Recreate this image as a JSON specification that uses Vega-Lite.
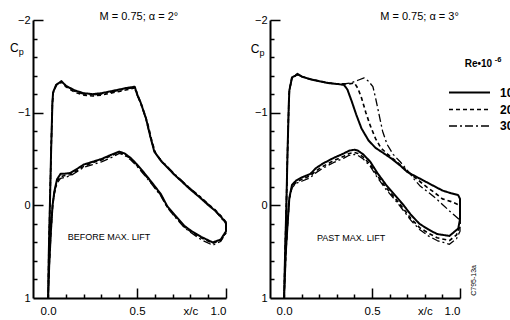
{
  "$schema": "https://vega.github.io/schema/vega-lite/v6.json",
  "padding": {"left": 9, "top": 10, "right": 2, "bottom": 2},
  "spacing": 22,
  "config": {
    "font": "Liberation Sans",
    "view": {"stroke": "transparent"}
  },
  "datasets": {
    "a2": [
      {"re":"10","x":0,"cp":1},{"re":"10","x":0.004,"cp":0.5},{"re":"10","x":0.01,"cp":0},{"re":"10","x":0.017,"cp":-0.6},{"re":"10","x":0.024,"cp":-1.1},{"re":"10","x":0.028,"cp":-1.22},{"re":"10","x":0.045,"cp":-1.3},{"re":"10","x":0.075,"cp":-1.34},{"re":"10","x":0.1,"cp":-1.29},{"re":"10","x":0.15,"cp":-1.24},{"re":"10","x":0.2,"cp":-1.21},{"re":"10","x":0.25,"cp":-1.2},{"re":"10","x":0.3,"cp":-1.21},{"re":"10","x":0.35,"cp":-1.23},{"re":"10","x":0.4,"cp":-1.25},{"re":"10","x":0.45,"cp":-1.27},{"re":"10","x":0.487,"cp":-1.28},{"re":"10","x":0.5,"cp":-1.2},{"re":"10","x":0.52,"cp":-1.11},{"re":"10","x":0.55,"cp":-0.94},{"re":"10","x":0.575,"cp":-0.74},{"re":"10","x":0.597,"cp":-0.58},{"re":"10","x":0.634,"cp":-0.48},{"re":"10","x":0.67,"cp":-0.41},{"re":"10","x":0.71,"cp":-0.33},{"re":"10","x":0.75,"cp":-0.26},{"re":"10","x":0.8,"cp":-0.17},{"re":"10","x":0.85,"cp":-0.09},{"re":"10","x":0.896,"cp":-0.01},{"re":"10","x":0.94,"cp":0.06},{"re":"10","x":0.97,"cp":0.12},{"re":"10","x":1,"cp":0.19},{"re":"10","x":1,"cp":0.28},{"re":"10","x":0.97,"cp":0.37},{"re":"10","x":0.925,"cp":0.4},{"re":"10","x":0.86,"cp":0.34},{"re":"10","x":0.8,"cp":0.27},{"re":"10","x":0.765,"cp":0.22},{"re":"10","x":0.71,"cp":0.1},{"re":"10","x":0.67,"cp":0.01},{"re":"10","x":0.634,"cp":-0.12},{"re":"10","x":0.59,"cp":-0.23},{"re":"10","x":0.54,"cp":-0.35},{"re":"10","x":0.5,"cp":-0.44},{"re":"10","x":0.465,"cp":-0.51},{"re":"10","x":0.43,"cp":-0.56},{"re":"10","x":0.4,"cp":-0.58},{"re":"10","x":0.36,"cp":-0.55},{"re":"10","x":0.3,"cp":-0.5},{"re":"10","x":0.25,"cp":-0.47},{"re":"10","x":0.2,"cp":-0.44},{"re":"10","x":0.16,"cp":-0.39},{"re":"10","x":0.126,"cp":-0.35},{"re":"10","x":0.09,"cp":-0.34},{"re":"10","x":0.07,"cp":-0.34},{"re":"10","x":0.05,"cp":-0.28},{"re":"10","x":0.035,"cp":-0.15},{"re":"10","x":0.025,"cp":0},{"re":"10","x":0.015,"cp":0.3},{"re":"10","x":0.006,"cp":0.65},{"re":"10","x":0,"cp":1},

      {"re":"20","x":0,"cp":1},{"re":"20","x":0.004,"cp":0.5},{"re":"20","x":0.01,"cp":0},{"re":"20","x":0.017,"cp":-0.6},{"re":"20","x":0.024,"cp":-1.1},{"re":"20","x":0.028,"cp":-1.21},{"re":"20","x":0.045,"cp":-1.29},{"re":"20","x":0.075,"cp":-1.33},{"re":"20","x":0.1,"cp":-1.28},{"re":"20","x":0.15,"cp":-1.22},{"re":"20","x":0.2,"cp":-1.19},{"re":"20","x":0.25,"cp":-1.18},{"re":"20","x":0.3,"cp":-1.19},{"re":"20","x":0.35,"cp":-1.21},{"re":"20","x":0.4,"cp":-1.23},{"re":"20","x":0.45,"cp":-1.25},{"re":"20","x":0.49,"cp":-1.27},{"re":"20","x":0.505,"cp":-1.18},{"re":"20","x":0.53,"cp":-1.06},{"re":"20","x":0.56,"cp":-0.88},{"re":"20","x":0.585,"cp":-0.68},{"re":"20","x":0.605,"cp":-0.56},{"re":"20","x":0.64,"cp":-0.47},{"re":"20","x":0.67,"cp":-0.41},{"re":"20","x":0.71,"cp":-0.33},{"re":"20","x":0.75,"cp":-0.26},{"re":"20","x":0.8,"cp":-0.18},{"re":"20","x":0.85,"cp":-0.1},{"re":"20","x":0.896,"cp":-0.02},{"re":"20","x":0.94,"cp":0.05},{"re":"20","x":0.97,"cp":0.11},{"re":"20","x":1,"cp":0.18},{"re":"20","x":1,"cp":0.29},{"re":"20","x":0.97,"cp":0.38},{"re":"20","x":0.925,"cp":0.41},{"re":"20","x":0.86,"cp":0.35},{"re":"20","x":0.8,"cp":0.28},{"re":"20","x":0.765,"cp":0.23},{"re":"20","x":0.71,"cp":0.11},{"re":"20","x":0.67,"cp":0.02},{"re":"20","x":0.634,"cp":-0.11},{"re":"20","x":0.59,"cp":-0.22},{"re":"20","x":0.54,"cp":-0.34},{"re":"20","x":0.5,"cp":-0.43},{"re":"20","x":0.465,"cp":-0.5},{"re":"20","x":0.43,"cp":-0.55},{"re":"20","x":0.4,"cp":-0.57},{"re":"20","x":0.36,"cp":-0.54},{"re":"20","x":0.3,"cp":-0.49},{"re":"20","x":0.25,"cp":-0.46},{"re":"20","x":0.2,"cp":-0.42},{"re":"20","x":0.16,"cp":-0.37},{"re":"20","x":0.126,"cp":-0.33},{"re":"20","x":0.09,"cp":-0.32},{"re":"20","x":0.07,"cp":-0.31},{"re":"20","x":0.05,"cp":-0.26},{"re":"20","x":0.035,"cp":-0.14},{"re":"20","x":0.025,"cp":0},{"re":"20","x":0.015,"cp":0.3},{"re":"20","x":0.006,"cp":0.65},{"re":"20","x":0,"cp":1},

      {"re":"30","x":0,"cp":1},{"re":"30","x":0.004,"cp":0.5},{"re":"30","x":0.01,"cp":0},{"re":"30","x":0.017,"cp":-0.6},{"re":"30","x":0.024,"cp":-1.1},{"re":"30","x":0.028,"cp":-1.21},{"re":"30","x":0.045,"cp":-1.3},{"re":"30","x":0.075,"cp":-1.33},{"re":"30","x":0.1,"cp":-1.29},{"re":"30","x":0.15,"cp":-1.23},{"re":"30","x":0.2,"cp":-1.2},{"re":"30","x":0.25,"cp":-1.19},{"re":"30","x":0.3,"cp":-1.2},{"re":"30","x":0.35,"cp":-1.22},{"re":"30","x":0.4,"cp":-1.24},{"re":"30","x":0.45,"cp":-1.26},{"re":"30","x":0.485,"cp":-1.27},{"re":"30","x":0.5,"cp":-1.19},{"re":"30","x":0.52,"cp":-1.1},{"re":"30","x":0.55,"cp":-0.93},{"re":"30","x":0.575,"cp":-0.73},{"re":"30","x":0.6,"cp":-0.57},{"re":"30","x":0.634,"cp":-0.49},{"re":"30","x":0.67,"cp":-0.42},{"re":"30","x":0.71,"cp":-0.34},{"re":"30","x":0.75,"cp":-0.27},{"re":"30","x":0.8,"cp":-0.18},{"re":"30","x":0.85,"cp":-0.1},{"re":"30","x":0.896,"cp":-0.02},{"re":"30","x":0.94,"cp":0.06},{"re":"30","x":0.97,"cp":0.13},{"re":"30","x":1,"cp":0.2},{"re":"30","x":1,"cp":0.3},{"re":"30","x":0.97,"cp":0.39},{"re":"30","x":0.925,"cp":0.43},{"re":"30","x":0.86,"cp":0.37},{"re":"30","x":0.8,"cp":0.29},{"re":"30","x":0.765,"cp":0.24},{"re":"30","x":0.71,"cp":0.12},{"re":"30","x":0.67,"cp":0.02},{"re":"30","x":0.634,"cp":-0.1},{"re":"30","x":0.59,"cp":-0.21},{"re":"30","x":0.54,"cp":-0.33},{"re":"30","x":0.5,"cp":-0.42},{"re":"30","x":0.465,"cp":-0.49},{"re":"30","x":0.43,"cp":-0.54},{"re":"30","x":0.4,"cp":-0.56},{"re":"30","x":0.36,"cp":-0.52},{"re":"30","x":0.3,"cp":-0.47},{"re":"30","x":0.25,"cp":-0.44},{"re":"30","x":0.2,"cp":-0.41},{"re":"30","x":0.16,"cp":-0.36},{"re":"30","x":0.126,"cp":-0.32},{"re":"30","x":0.09,"cp":-0.3},{"re":"30","x":0.07,"cp":-0.29},{"re":"30","x":0.05,"cp":-0.24},{"re":"30","x":0.035,"cp":-0.12},{"re":"30","x":0.025,"cp":0.02},{"re":"30","x":0.015,"cp":0.3},{"re":"30","x":0.006,"cp":0.65},{"re":"30","x":0,"cp":1}
    ],
    "a3": [
      {"re":"10","x":0,"cp":1},{"re":"10","x":0.006,"cp":0.5},{"re":"10","x":0.013,"cp":0},{"re":"10","x":0.02,"cp":-0.6},{"re":"10","x":0.027,"cp":-1.1},{"re":"10","x":0.03,"cp":-1.24},{"re":"10","x":0.045,"cp":-1.38},{"re":"10","x":0.065,"cp":-1.4},{"re":"10","x":0.076,"cp":-1.42},{"re":"10","x":0.1,"cp":-1.39},{"re":"10","x":0.15,"cp":-1.36},{"re":"10","x":0.2,"cp":-1.34},{"re":"10","x":0.25,"cp":-1.32},{"re":"10","x":0.3,"cp":-1.31},{"re":"10","x":0.34,"cp":-1.3},{"re":"10","x":0.36,"cp":-1.25},{"re":"10","x":0.385,"cp":-1.12},{"re":"10","x":0.41,"cp":-0.98},{"re":"10","x":0.44,"cp":-0.83},{"re":"10","x":0.48,"cp":-0.7},{"re":"10","x":0.52,"cp":-0.62},{"re":"10","x":0.56,"cp":-0.57},{"re":"10","x":0.61,"cp":-0.505},{"re":"10","x":0.66,"cp":-0.43},{"re":"10","x":0.7,"cp":-0.36},{"re":"10","x":0.75,"cp":-0.31},{"re":"10","x":0.8,"cp":-0.26},{"re":"10","x":0.85,"cp":-0.21},{"re":"10","x":0.9,"cp":-0.16},{"re":"10","x":0.95,"cp":-0.13},{"re":"10","x":0.99,"cp":-0.11},{"re":"10","x":1,"cp":-0.07},{"re":"10","x":1,"cp":0.15},{"re":"10","x":0.99,"cp":0.25},{"re":"10","x":0.94,"cp":0.33},{"re":"10","x":0.87,"cp":0.31},{"re":"10","x":0.82,"cp":0.26},{"re":"10","x":0.77,"cp":0.2},{"re":"10","x":0.72,"cp":0.1},{"re":"10","x":0.68,"cp":0},{"re":"10","x":0.63,"cp":-0.11},{"re":"10","x":0.58,"cp":-0.22},{"re":"10","x":0.53,"cp":-0.35},{"re":"10","x":0.49,"cp":-0.47},{"re":"10","x":0.45,"cp":-0.55},{"re":"10","x":0.42,"cp":-0.59},{"re":"10","x":0.4,"cp":-0.6},{"re":"10","x":0.37,"cp":-0.59},{"re":"10","x":0.34,"cp":-0.56},{"re":"10","x":0.28,"cp":-0.51},{"re":"10","x":0.22,"cp":-0.45},{"re":"10","x":0.18,"cp":-0.4},{"re":"10","x":0.15,"cp":-0.34},{"re":"10","x":0.1,"cp":-0.3},{"re":"10","x":0.07,"cp":-0.27},{"re":"10","x":0.045,"cp":-0.22},{"re":"10","x":0.03,"cp":-0.08},{"re":"10","x":0.02,"cp":0.2},{"re":"10","x":0.01,"cp":0.5},{"re":"10","x":0,"cp":1},

      {"re":"20","x":0,"cp":1},{"re":"20","x":0.006,"cp":0.5},{"re":"20","x":0.013,"cp":0},{"re":"20","x":0.02,"cp":-0.6},{"re":"20","x":0.027,"cp":-1.1},{"re":"20","x":0.03,"cp":-1.24},{"re":"20","x":0.045,"cp":-1.38},{"re":"20","x":0.065,"cp":-1.4},{"re":"20","x":0.076,"cp":-1.41},{"re":"20","x":0.1,"cp":-1.39},{"re":"20","x":0.15,"cp":-1.36},{"re":"20","x":0.2,"cp":-1.34},{"re":"20","x":0.25,"cp":-1.32},{"re":"20","x":0.3,"cp":-1.31},{"re":"20","x":0.34,"cp":-1.31},{"re":"20","x":0.37,"cp":-1.31},{"re":"20","x":0.4,"cp":-1.32},{"re":"20","x":0.42,"cp":-1.26},{"re":"20","x":0.44,"cp":-1.16},{"re":"20","x":0.465,"cp":-1},{"re":"20","x":0.49,"cp":-0.86},{"re":"20","x":0.52,"cp":-0.72},{"re":"20","x":0.55,"cp":-0.62},{"re":"20","x":0.59,"cp":-0.55},{"re":"20","x":0.64,"cp":-0.47},{"re":"20","x":0.7,"cp":-0.37},{"re":"20","x":0.75,"cp":-0.29},{"re":"20","x":0.81,"cp":-0.2},{"re":"20","x":0.86,"cp":-0.13},{"re":"20","x":0.9,"cp":-0.07},{"re":"20","x":0.95,"cp":-0.04},{"re":"20","x":1,"cp":0},{"re":"20","x":1,"cp":0.22},{"re":"20","x":0.98,"cp":0.32},{"re":"20","x":0.94,"cp":0.38},{"re":"20","x":0.87,"cp":0.35},{"re":"20","x":0.82,"cp":0.3},{"re":"20","x":0.77,"cp":0.24},{"re":"20","x":0.72,"cp":0.14},{"re":"20","x":0.68,"cp":0.04},{"re":"20","x":0.63,"cp":-0.08},{"re":"20","x":0.58,"cp":-0.19},{"re":"20","x":0.53,"cp":-0.32},{"re":"20","x":0.49,"cp":-0.44},{"re":"20","x":0.45,"cp":-0.52},{"re":"20","x":0.42,"cp":-0.56},{"re":"20","x":0.4,"cp":-0.57},{"re":"20","x":0.37,"cp":-0.56},{"re":"20","x":0.34,"cp":-0.53},{"re":"20","x":0.28,"cp":-0.48},{"re":"20","x":0.22,"cp":-0.42},{"re":"20","x":0.18,"cp":-0.37},{"re":"20","x":0.15,"cp":-0.32},{"re":"20","x":0.1,"cp":-0.28},{"re":"20","x":0.07,"cp":-0.25},{"re":"20","x":0.045,"cp":-0.2},{"re":"20","x":0.03,"cp":-0.07},{"re":"20","x":0.02,"cp":0.2},{"re":"20","x":0.01,"cp":0.5},{"re":"20","x":0,"cp":1},

      {"re":"30","x":0,"cp":1},{"re":"30","x":0.006,"cp":0.5},{"re":"30","x":0.013,"cp":0},{"re":"30","x":0.02,"cp":-0.6},{"re":"30","x":0.027,"cp":-1.1},{"re":"30","x":0.03,"cp":-1.24},{"re":"30","x":0.045,"cp":-1.37},{"re":"30","x":0.065,"cp":-1.4},{"re":"30","x":0.076,"cp":-1.41},{"re":"30","x":0.1,"cp":-1.39},{"re":"30","x":0.15,"cp":-1.36},{"re":"30","x":0.2,"cp":-1.34},{"re":"30","x":0.25,"cp":-1.32},{"re":"30","x":0.3,"cp":-1.31},{"re":"30","x":0.34,"cp":-1.31},{"re":"30","x":0.38,"cp":-1.32},{"re":"30","x":0.42,"cp":-1.35},{"re":"30","x":0.455,"cp":-1.375},{"re":"30","x":0.48,"cp":-1.34},{"re":"30","x":0.505,"cp":-1.28},{"re":"30","x":0.52,"cp":-1.16},{"re":"30","x":0.54,"cp":-0.98},{"re":"30","x":0.56,"cp":-0.8},{"re":"30","x":0.585,"cp":-0.66},{"re":"30","x":0.62,"cp":-0.55},{"re":"30","x":0.66,"cp":-0.47},{"re":"30","x":0.7,"cp":-0.38},{"re":"30","x":0.74,"cp":-0.28},{"re":"30","x":0.77,"cp":-0.215},{"re":"30","x":0.82,"cp":-0.14},{"re":"30","x":0.866,"cp":-0.07},{"re":"30","x":0.9,"cp":-0.01},{"re":"30","x":0.94,"cp":0.06},{"re":"30","x":0.97,"cp":0.11},{"re":"30","x":1,"cp":0.16},{"re":"30","x":1,"cp":0.28},{"re":"30","x":0.98,"cp":0.36},{"re":"30","x":0.94,"cp":0.42},{"re":"30","x":0.87,"cp":0.38},{"re":"30","x":0.82,"cp":0.33},{"re":"30","x":0.77,"cp":0.26},{"re":"30","x":0.72,"cp":0.16},{"re":"30","x":0.68,"cp":0.06},{"re":"30","x":0.63,"cp":-0.06},{"re":"30","x":0.58,"cp":-0.17},{"re":"30","x":0.53,"cp":-0.3},{"re":"30","x":0.49,"cp":-0.42},{"re":"30","x":0.45,"cp":-0.5},{"re":"30","x":0.42,"cp":-0.54},{"re":"30","x":0.4,"cp":-0.55},{"re":"30","x":0.37,"cp":-0.54},{"re":"30","x":0.34,"cp":-0.51},{"re":"30","x":0.28,"cp":-0.46},{"re":"30","x":0.22,"cp":-0.4},{"re":"30","x":0.18,"cp":-0.35},{"re":"30","x":0.15,"cp":-0.3},{"re":"30","x":0.1,"cp":-0.26},{"re":"30","x":0.07,"cp":-0.24},{"re":"30","x":0.045,"cp":-0.19},{"re":"30","x":0.03,"cp":-0.06},{"re":"30","x":0.02,"cp":0.2},{"re":"30","x":0.01,"cp":0.5},{"re":"30","x":0,"cp":1}
    ]
  },
  "hconcat": [
    {
      "width": 193,
      "height": 278,
      "resolve": {"axis": {"x": "independent", "y": "independent"}},
      "layer": [
        {
          "data": {"name": "a2"},
          "mark": {"type": "line", "color": "black", "strokeJoin": "round"},
          "encoding": {
            "x": {
              "field": "x", "type": "quantitative",
              "scale": {"domain": [-0.085, 1], "nice": false, "zero": false},
              "axis": {
                "title": null, "orient": "bottom", "ticks": false, "grid": false,
                "domain": true, "domainColor": "black", "domainWidth": 2,
                "values": [0, 0.5, 0.8, 1],
                "labelExpr": "datum.value === 0 ? '0.0' : datum.value === 0.5 ? '0.5' : datum.value === 1 ? '1.0' : 'x/c'",
                "labelPadding": 7, "labelFontSize": 11.5, "labelColor": "black"
              }
            },
            "y": {
              "field": "cp", "type": "quantitative",
              "scale": {"domain": [-2, 1], "reverse": true, "nice": false, "zero": false},
              "axis": {
                "title": null, "orient": "left", "ticks": false, "grid": false,
                "domain": true, "domainColor": "black", "domainWidth": 2,
                "values": [-2, -1, 0, 1], "format": "d", "labelPadding": 3, "labelFontSize": 11, "labelColor": "black"
              }
            },
            "strokeDash": {
              "field": "re", "type": "nominal",
              "scale": {"domain": ["10", "20", "30"], "range": [[1, 0], [4, 3], [8, 3, 2, 3]]},
              "legend": {
                "title": null, "orient": "none", "legendX": 430, "legendY": 66,
                "symbolType": "M-4,0H4", "symbolSize": 105, "symbolStrokeColor": "black", "symbolStrokeWidth": 1.6,
                "labelFontSize": 12, "labelFontWeight": "bold", "labelColor": "black", "labelOffset": 24, "rowPadding": 4.5
              }
            },
            "strokeWidth": {
              "field": "re", "type": "nominal",
              "scale": {"domain": ["10", "20", "30"], "range": [2, 1.3, 1.3]},
              "legend": null
            },
            "order": {"value": null}
          }
        },
        {
          "data": {"values": [{"x": 0.51, "cp": -2.03, "t": "M = 0.75; α = 2°"}]},
          "mark": {"type": "text", "fontSize": 11, "align": "center", "baseline": "middle"},
          "encoding": {
            "x": {"field": "x", "type": "quantitative", "axis": {"title": null, "orient": "top", "offset": -278, "values": [0, 0.1, 0.2, 0.3, 0.4, 0.6, 0.7, 0.8, 0.9], "ticks": true, "tickSize": 4, "tickColor": "black", "tickWidth": 1.5, "labels": false, "domain": false, "grid": false}},
            "y": {"field": "cp", "type": "quantitative", "axis": {"title": null, "orient": "right", "offset": -193, "values": [-1.8, -1.6, -1.4, -1.2, -0.8, -0.6, -0.4, -0.2, 0.2, 0.4, 0.6, 0.8], "ticks": true, "tickSize": 4, "tickColor": "black", "tickWidth": 1.5, "labels": false, "domain": false, "grid": false}},
            "text": {"field": "t"}
          }
        },
        {
          "data": {"values": [{"x": 0.11, "cp": 0.34, "t": "BEFORE MAX. LIFT"}]},
          "mark": {"type": "text", "fontSize": 9, "align": "left", "baseline": "middle"},
          "encoding": {
            "x": {"field": "x", "type": "quantitative", "axis": {"title": null, "orient": "top", "offset": -278, "values": [0.5, 1], "ticks": true, "tickSize": 10, "tickColor": "black", "tickWidth": 1.5, "labels": false, "domain": false, "grid": false}},
            "y": {"field": "cp", "type": "quantitative", "axis": {"title": null, "orient": "right", "offset": -193, "values": [-2, -1, 0], "ticks": true, "tickSize": 10, "tickColor": "black", "tickWidth": 1.5, "labels": false, "domain": false, "grid": false}},
            "text": {"field": "t"}
          }
        },
        {
          "data": {"values": [{"x": -0.19, "cp": -1.7, "t": "C"}]},
          "mark": {"type": "text", "fontSize": 12, "align": "center", "baseline": "middle"},
          "encoding": {"x": {"field": "x", "type": "quantitative", "axis": null}, "y": {"field": "cp", "type": "quantitative", "axis": null}, "text": {"field": "t"}}
        },
        {
          "data": {"values": [{"x": -0.19, "cp": -1.7, "t": "p"}]},
          "mark": {"type": "text", "fontSize": 9, "align": "center", "baseline": "middle", "dx": 7, "dy": 4},
          "encoding": {"x": {"field": "x", "type": "quantitative", "axis": null}, "y": {"field": "cp", "type": "quantitative", "axis": null}, "text": {"field": "t"}}
        }
      ]
    },
    {
      "width": 190,
      "height": 278,
      "resolve": {"axis": {"x": "independent", "y": "independent"}},
      "layer": [
        {
          "data": {"name": "a3"},
          "mark": {"type": "line", "color": "black", "strokeJoin": "round"},
          "encoding": {
            "x": {
              "field": "x", "type": "quantitative",
              "scale": {"domain": [-0.08, 1], "nice": false, "zero": false},
              "axis": {
                "title": null, "orient": "bottom", "ticks": false, "grid": false,
                "domain": true, "domainColor": "black", "domainWidth": 2,
                "values": [0, 0.5, 0.8, 1],
                "labelExpr": "datum.value === 0 ? '0.0' : datum.value === 0.5 ? '0.5' : datum.value === 1 ? '1.0' : 'x/c'",
                "labelPadding": 7, "labelFontSize": 11.5, "labelColor": "black"
              }
            },
            "y": {
              "field": "cp", "type": "quantitative",
              "scale": {"domain": [-2, 1], "reverse": true, "nice": false, "zero": false},
              "axis": {
                "title": null, "orient": "left", "ticks": false, "grid": false,
                "domain": true, "domainColor": "black", "domainWidth": 2,
                "values": [-2, -1, 0, 1], "format": "d", "labelPadding": 3, "labelFontSize": 11, "labelColor": "black"
              }
            },
            "strokeDash": {
              "field": "re", "type": "nominal",
              "scale": {"domain": ["10", "20", "30"], "range": [[1, 0], [4, 3], [8, 3, 2, 3]]}
            },
            "strokeWidth": {
              "field": "re", "type": "nominal",
              "scale": {"domain": ["10", "20", "30"], "range": [2, 1.3, 1.3]},
              "legend": null
            },
            "order": {"value": null}
          }
        },
        {
          "data": {"values": [{"x": 0.77, "cp": -2.03, "t": "M = 0.75; α = 3°"}]},
          "mark": {"type": "text", "fontSize": 11, "align": "center", "baseline": "middle"},
          "encoding": {
            "x": {"field": "x", "type": "quantitative", "axis": {"title": null, "orient": "top", "offset": -278, "values": [0, 0.1, 0.2, 0.3, 0.4, 0.6, 0.7, 0.8, 0.9], "ticks": true, "tickSize": 4, "tickColor": "black", "tickWidth": 1.5, "labels": false, "domain": false, "grid": false}},
            "y": {"field": "cp", "type": "quantitative", "axis": {"title": null, "orient": "right", "offset": -190, "values": [-1.8, -1.6, -1.4, -1.2, -0.8, -0.6, -0.4, -0.2, 0.2, 0.4, 0.6, 0.8], "ticks": true, "tickSize": 4, "tickColor": "black", "tickWidth": 1.5, "labels": false, "domain": false, "grid": false}},
            "text": {"field": "t"}
          }
        },
        {
          "data": {"values": [{"x": 0.187, "cp": 0.35, "t": "PAST MAX. LIFT"}]},
          "mark": {"type": "text", "fontSize": 9, "align": "left", "baseline": "middle"},
          "encoding": {
            "x": {"field": "x", "type": "quantitative", "axis": {"title": null, "orient": "top", "offset": -278, "values": [0.5, 1], "ticks": true, "tickSize": 10, "tickColor": "black", "tickWidth": 1.5, "labels": false, "domain": false, "grid": false}},
            "y": {"field": "cp", "type": "quantitative", "axis": {"title": null, "orient": "right", "offset": -190, "values": [-2, -1, 0], "ticks": true, "tickSize": 10, "tickColor": "black", "tickWidth": 1.5, "labels": false, "domain": false, "grid": false}},
            "text": {"field": "t"}
          }
        },
        {
          "data": {"values": [{"x": -0.165, "cp": -1.69, "t": "C"}]},
          "mark": {"type": "text", "fontSize": 12, "align": "center", "baseline": "middle"},
          "encoding": {"x": {"field": "x", "type": "quantitative", "axis": null}, "y": {"field": "cp", "type": "quantitative", "axis": null}, "text": {"field": "t"}}
        },
        {
          "data": {"values": [{"x": -0.165, "cp": -1.69, "t": "p"}]},
          "mark": {"type": "text", "fontSize": 9, "align": "center", "baseline": "middle", "dx": 7, "dy": 4},
          "encoding": {"x": {"field": "x", "type": "quantitative", "axis": null}, "y": {"field": "cp", "type": "quantitative", "axis": null}, "text": {"field": "t"}}
        },
        {
          "data": {"values": [{"x": 1.027, "cp": -1.53, "t": "Re•10"}]},
          "mark": {"type": "text", "fontSize": 10, "fontWeight": "bold", "align": "left", "baseline": "middle"},
          "encoding": {"x": {"field": "x", "type": "quantitative", "axis": null}, "y": {"field": "cp", "type": "quantitative", "axis": null}, "text": {"field": "t"}}
        },
        {
          "data": {"values": [{"x": 1.027, "cp": -1.53, "t": "-6"}]},
          "mark": {"type": "text", "fontSize": 7.5, "fontWeight": "bold", "align": "left", "baseline": "middle", "dx": 30, "dy": -4},
          "encoding": {"x": {"field": "x", "type": "quantitative", "axis": null}, "y": {"field": "cp", "type": "quantitative", "axis": null}, "text": {"field": "t"}}
        },
        {
          "data": {"values": [{"x": 1.078, "cp": 0.81, "t": "C795-13a"}]},
          "mark": {"type": "text", "fontSize": 7, "align": "center", "baseline": "middle", "angle": 270},
          "encoding": {"x": {"field": "x", "type": "quantitative", "axis": null}, "y": {"field": "cp", "type": "quantitative", "axis": null}, "text": {"field": "t"}}
        }
      ]
    }
  ]
}
